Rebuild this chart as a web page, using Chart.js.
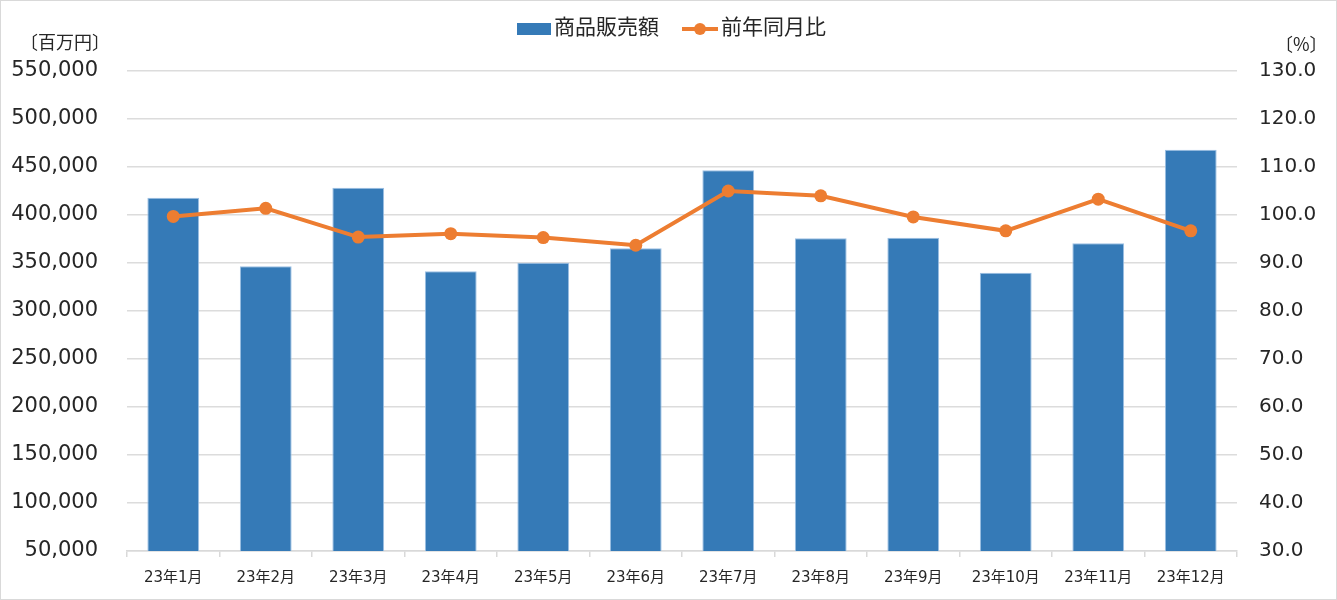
<!DOCTYPE html>
<html>
<head>
<meta charset="utf-8">
<script src="https://cdn.jsdelivr.net/npm/chart.js@4/dist/chart.umd.min.js"></script>
<style>
html,body{margin:0;padding:0;background:#fff;}
#wrap{position:relative;width:1337px;height:600px;box-sizing:border-box;border:1px solid #d9d9d9;overflow:hidden;}
canvas{position:absolute;left:-1px;top:-1px;}
</style>
</head>
<body>
<div id="wrap"><canvas id="c" width="1337" height="600"></canvas></div>
<script>
const categories = ['23年1月','23年2月','23年3月','23年4月','23年5月','23年6月','23年7月','23年8月','23年9月','23年10月','23年11月','23年12月'];
const salesValues = [418000, 346600, 428500, 341300, 350300, 365300, 446500, 375700, 376400, 339900, 370500, 468000];
const yoyValues = [99.7, 101.4, 95.4, 96.1, 95.3, 93.7, 105.0, 104.0, 99.6, 96.7, 103.3, 96.7];
const salesLabel = '商品販売額';
const yoyLabel = '前年同月比';
const leftUnit = '〔百万円〕';
const rightUnit = '〔%〕';

const FONT = '"DejaVu Sans", "Noto Sans CJK JP", sans-serif';
const TEXT = '#262626';
const BLUE = '#357ab7';
const ORANGE = '#ed7d31';

const extras = {
  id: 'extras',
  afterDraw(chart) {
    const ctx = chart.ctx;
    ctx.save();
    ctx.fillStyle = TEXT;
    ctx.textBaseline = 'middle';
    ctx.font = '18px "Noto Sans CJK JP", sans-serif';
    ctx.textAlign = 'left';
    ctx.fillText(leftUnit, 20, 42);
    ctx.fillText(rightUnit, 1275, 44);
    // legend
    const cy = 29;
    ctx.fillStyle = BLUE;
    ctx.fillRect(517, cy - 6, 34, 12);
    ctx.fillStyle = TEXT;
    ctx.font = '21px ' + FONT;
    ctx.textAlign = 'left';
    ctx.fillText(salesLabel, 554, cy);
    ctx.strokeStyle = ORANGE;
    ctx.lineWidth = 4;
    ctx.beginPath();
    ctx.moveTo(682, cy); ctx.lineTo(718, cy);
    ctx.stroke();
    ctx.fillStyle = ORANGE;
    ctx.beginPath();
    ctx.arc(700, cy, 6, 0, Math.PI * 2);
    ctx.fill();
    ctx.fillStyle = TEXT;
    ctx.fillText(yoyLabel, 721, cy);
    ctx.restore();
  }
};

new Chart(document.getElementById('c'), {
  data: {
    labels: categories,
    datasets: [
      {
        type: 'line',
        label: yoyLabel,
        data: yoyValues,
        yAxisID: 'y1',
        borderColor: ORANGE,
        backgroundColor: ORANGE,
        borderWidth: 4,
        pointRadius: 6.5,
        pointBorderWidth: 0,
        pointBackgroundColor: ORANGE,
        tension: 0,
        order: 0
      },
      {
        type: 'bar',
        label: salesLabel,
        data: salesValues,
        yAxisID: 'y',
        backgroundColor: BLUE,
        borderColor: '#9cc0e4',
        borderWidth: 1,
        categoryPercentage: 1,
        barPercentage: 0.56,
        order: 1
      }
    ]
  },
  options: {
    responsive: false,
    animation: false,
    devicePixelRatio: 1,
    layout: { padding: { top: 71, bottom: 0, left: 0, right: 0 } },
    plugins: { legend: { display: false }, tooltip: { enabled: false } },
    scales: {
      x: {
        offset: true,
        grid: { display: true, drawOnChartArea: false, drawTicks: true, tickLength: 6, color: '#d9d9d9', offset: true, lineWidth: 1.5 },
        border: { display: true, color: '#d9d9d9', width: 1.5 },
        ticks: { font: { family: FONT, size: 15 }, color: TEXT, padding: 12, maxRotation: 0, autoSkip: false },
        afterFit(s) { s.height = 49; }
      },
      y: {
        position: 'left',
        min: 50000, max: 550000,
        grid: { color: '#dcdcdc', lineWidth: 1.5, drawTicks: false },
        border: { display: false },
        ticks: {
          stepSize: 50000,
          font: { family: FONT, size: 21 },
          color: TEXT,
          padding: 29,
          callback: v => v.toLocaleString('en-US')
        },
        afterFit(s) { s.width = 127; }
      },
      y1: {
        position: 'right',
        min: 30, max: 130,
        grid: { drawOnChartArea: false, drawTicks: false },
        border: { display: false },
        ticks: {
          stepSize: 10,
          font: { family: FONT, size: 20 },
          color: TEXT,
          padding: 22,
          callback: v => v.toFixed(1)
        },
        afterFit(s) { s.width = 100; }
      }
    }
  },
  plugins: [extras]
});
</script>
</body>
</html>
